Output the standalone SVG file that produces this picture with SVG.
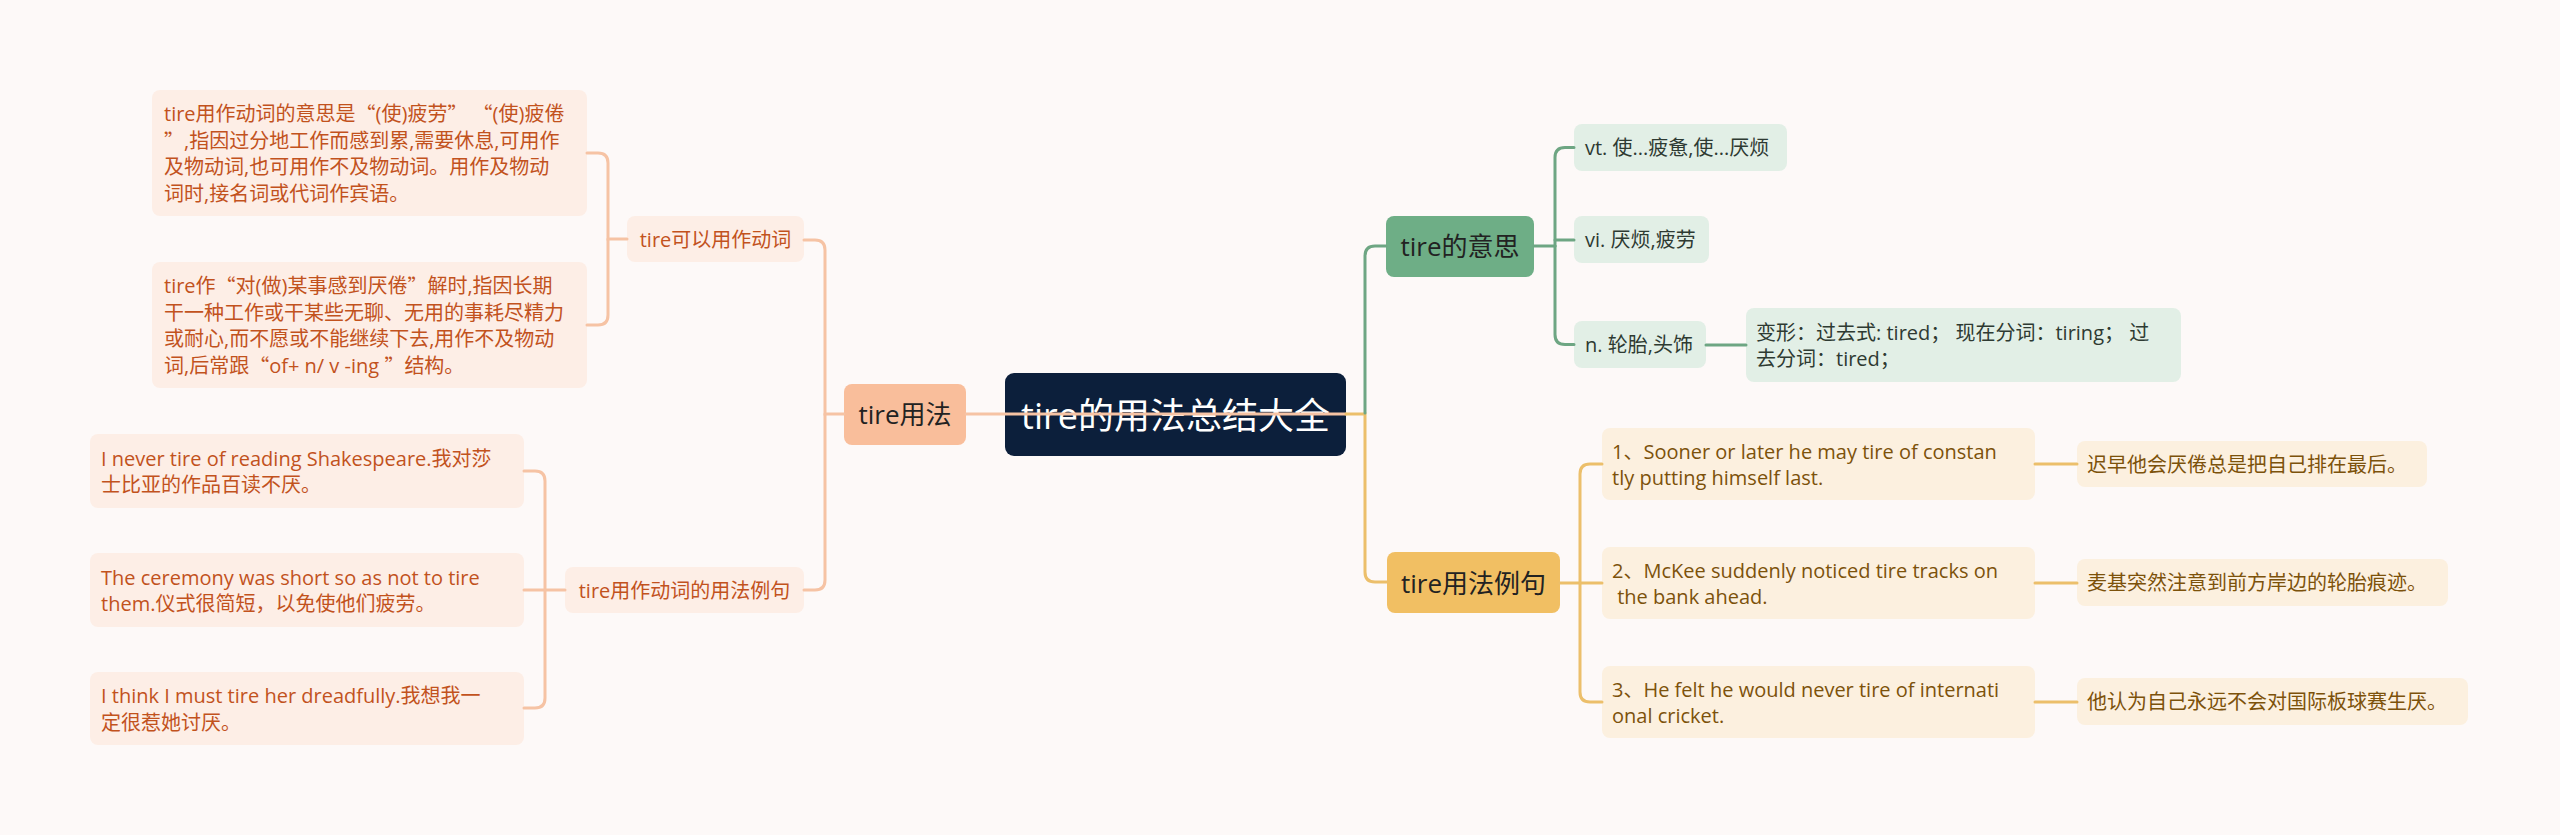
<svg xmlns="http://www.w3.org/2000/svg" width="2560" height="835" viewBox="0 0 2560 835">
<style>
text{font-family:"Open Sans","Noto Sans CJK SC",sans-serif;dominant-baseline:central}
.q{font-family:"Noto Sans CJK SC",sans-serif}
.root rect{fill:#0c1f3b}
.root text{fill:#ffffff;font-size:36px;text-anchor:middle}
.l2o rect{fill:#f9be9b}
.l2g rect{fill:#6eae86}
.l2y rect{fill:#f1bf63}
.l2 text{fill:#222222;font-size:26px;text-anchor:middle}
.lo rect{fill:#fdeee6}
.lo text{fill:#c2521d;font-size:20px}
.lg rect{fill:#e2efe6}
.lg text{fill:#2e3a32;font-size:20px}
.ly rect{fill:#fcf0df}
.ly text{fill:#7c520b;font-size:20px}
.mid{text-anchor:middle}
.c path{fill:none;stroke-width:3;stroke-linecap:round}
.co{stroke:#f6c3a4}
.cg{stroke:#6ea683}
.cy{stroke:#ecbf6b}
</style>
<rect x="0" y="0" width="2560" height="835" fill="#fdf9f8"/>

<g id="root" class="root"><rect x="1005" y="373" width="341" height="83" rx="9"/><text x="1175.5" y="415">tire的用法总结大全</text></g>

<g id="n-yongfa" class="l2 l2o"><rect x="844" y="384" width="122" height="61" rx="8"/><text x="905" y="414">tire用法</text></g>
<g id="n-verb" class="lo"><rect x="627" y="216" width="177" height="46" rx="8"/><text class="mid" x="715.5" y="239">tire可以用作动词</text></g>
<g id="n-verbex" class="lo"><rect x="565" y="567" width="239" height="46" rx="8"/><text class="mid" x="684.5" y="590">tire用作动词的用法例句</text></g>
<g id="n-l1" class="lo"><rect x="152" y="90" width="435" height="126" rx="8"/><text x="164" y="113"><tspan x="164" y="113">tire用作动词的意思是<tspan class="q">“</tspan>(使)疲劳<tspan class="q">”</tspan> <tspan class="q">“</tspan>(使)疲倦</tspan><tspan x="164" y="139.7"><tspan class="q">”</tspan>,指因过分地工作而感到累,需要休息,可用作</tspan><tspan x="164" y="166.3">及物动词,也可用作不及物动词。用作及物动</tspan><tspan x="164" y="193">词时,接名词或代词作宾语。</tspan></text></g>
<g id="n-l2" class="lo"><rect x="152" y="262" width="435" height="126" rx="8"/><text x="164" y="285"><tspan x="164" y="285">tire作<tspan class="q">“</tspan>对(做)某事感到厌倦<tspan class="q">”</tspan>解时,指因长期</tspan><tspan x="164" y="311.7">干一种工作或干某些无聊、无用的事耗尽精力</tspan><tspan x="164" y="338.3">或耐心,而不愿或不能继续下去,用作不及物动</tspan><tspan x="164" y="365">词,后常跟<tspan class="q">“</tspan>of+ n/ v -ing <tspan class="q">”</tspan>结构。</tspan></text></g>
<g id="n-l3" class="lo"><rect x="90" y="434" width="434" height="74" rx="8"/><text x="101" y="457.7"><tspan x="101" y="457.7">I never tire of reading Shakespeare.我对莎</tspan><tspan x="101" y="484.3">士比亚的作品百读不厌。</tspan></text></g>
<g id="n-l4" class="lo"><rect x="90" y="553" width="434" height="74" rx="8"/><text x="101" y="576.7"><tspan x="101" y="576.7">The ceremony was short so as not to tire</tspan><tspan x="101" y="603.3">them.仪式很简短，以免使他们疲劳。</tspan></text></g>
<g id="n-l5" class="lo"><rect x="90" y="672" width="434" height="73" rx="8"/><text x="101" y="695.2"><tspan x="101" y="695.2">I think I must tire her dreadfully.我想我一</tspan><tspan x="101" y="721.8">定很惹她讨厌。</tspan></text></g>

<g id="n-yisi" class="l2 l2g"><rect x="1386" y="216" width="148" height="61" rx="8"/><text x="1460" y="246">tire的意思</text></g>
<g id="n-vt" class="lg"><rect x="1574" y="124" width="213" height="47" rx="8"/><text x="1585" y="147.5">vt. 使...疲惫,使...厌烦</text></g>
<g id="n-vi" class="lg"><rect x="1574" y="216" width="135" height="47" rx="8"/><text x="1585" y="239.5">vi. 厌烦,疲劳</text></g>
<g id="n-n" class="lg"><rect x="1574" y="321" width="132" height="47" rx="8"/><text x="1585" y="344.5">n. 轮胎,头饰</text></g>
<g id="n-bianxing" class="lg"><rect x="1746" y="308" width="435" height="74" rx="8"/><text x="1756" y="331.7"><tspan x="1756" y="331.7">变形：过去式: tired； 现在分词：tiring； 过</tspan><tspan x="1756" y="358.3">去分词：tired；</tspan></text></g>

<g id="n-liju" class="l2 l2y"><rect x="1387" y="552" width="173" height="61" rx="8"/><text x="1473.5" y="582.5">tire用法例句</text></g>
<g id="n-e1" class="ly"><rect x="1602" y="428" width="433" height="72" rx="8"/><text x="1612" y="450.7"><tspan x="1612" y="450.7">1、Sooner or later he may tire of constan</tspan><tspan x="1612" y="477.3">tly putting himself last.</tspan></text></g>
<g id="n-e2" class="ly"><rect x="1602" y="547" width="433" height="72" rx="8"/><text x="1612" y="569.7" xml:space="preserve"><tspan x="1612" y="569.7">2、McKee suddenly noticed tire tracks on</tspan><tspan x="1612" y="596.3"> the bank ahead.</tspan></text></g>
<g id="n-e3" class="ly"><rect x="1602" y="666" width="433" height="72" rx="8"/><text x="1612" y="688.7"><tspan x="1612" y="688.7">3、He felt he would never tire of internati</tspan><tspan x="1612" y="715.3">onal cricket.</tspan></text></g>
<g id="n-t1" class="ly"><rect x="2077" y="441" width="350" height="46" rx="8"/><text x="2087" y="464">迟早他会厌倦总是把自己排在最后。</text></g>
<g id="n-t2" class="ly"><rect x="2077" y="559" width="371" height="47" rx="8"/><text x="2087" y="582.5">麦基突然注意到前方岸边的轮胎痕迹。</text></g>
<g id="n-t3" class="ly"><rect x="2077" y="678" width="391" height="47" rx="8"/><text x="2087" y="701.5">他认为自己永远不会对国际板球赛生厌。</text></g>

<g id="connectors" class="c">
<path class="co" d="M966 414 H1346"/>
<path class="co" d="M844 414 H825 V250 Q825 240 815 240 H804"/>
<path class="co" d="M825 414 V580 Q825 590 815 590 H804"/>
<path class="co" d="M627 239 H608 V163 Q608 153 598 153 H587"/>
<path class="co" d="M608 239 V315 Q608 325 598 325 H587"/>
<path class="co" d="M565 590 H524"/>
<path class="co" d="M545 590 V481 Q545 471 535 471 H524"/>
<path class="co" d="M545 590 V698 Q545 708 535 708 H524"/>
<path class="cy" d="M1346 414 H1365 V572 Q1365 582 1375 582 H1387"/>
<path class="cg" d="M1365 413 V256 Q1365 246 1375 246 H1386"/>
<path class="cg" d="M1534 246 H1555"/>
<path class="cg" d="M1555 240 H1574"/>
<path class="cg" d="M1555 246 V157.5 Q1555 147.5 1565 147.5 H1574"/>
<path class="cg" d="M1555 246 V334.5 Q1555 344.5 1565 344.5 H1574"/>
<path class="cg" d="M1706 345 H1746"/>
<path class="cy" d="M1560 583 H1602"/>
<path class="cy" d="M1580 583 V474 Q1580 464 1590 464 H1602"/>
<path class="cy" d="M1580 583 V692 Q1580 702 1590 702 H1602"/>
<path class="cy" d="M2035 464 H2077"/>
<path class="cy" d="M2035 583 H2077"/>
<path class="cy" d="M2035 702 H2077"/>
</g>
</svg>
